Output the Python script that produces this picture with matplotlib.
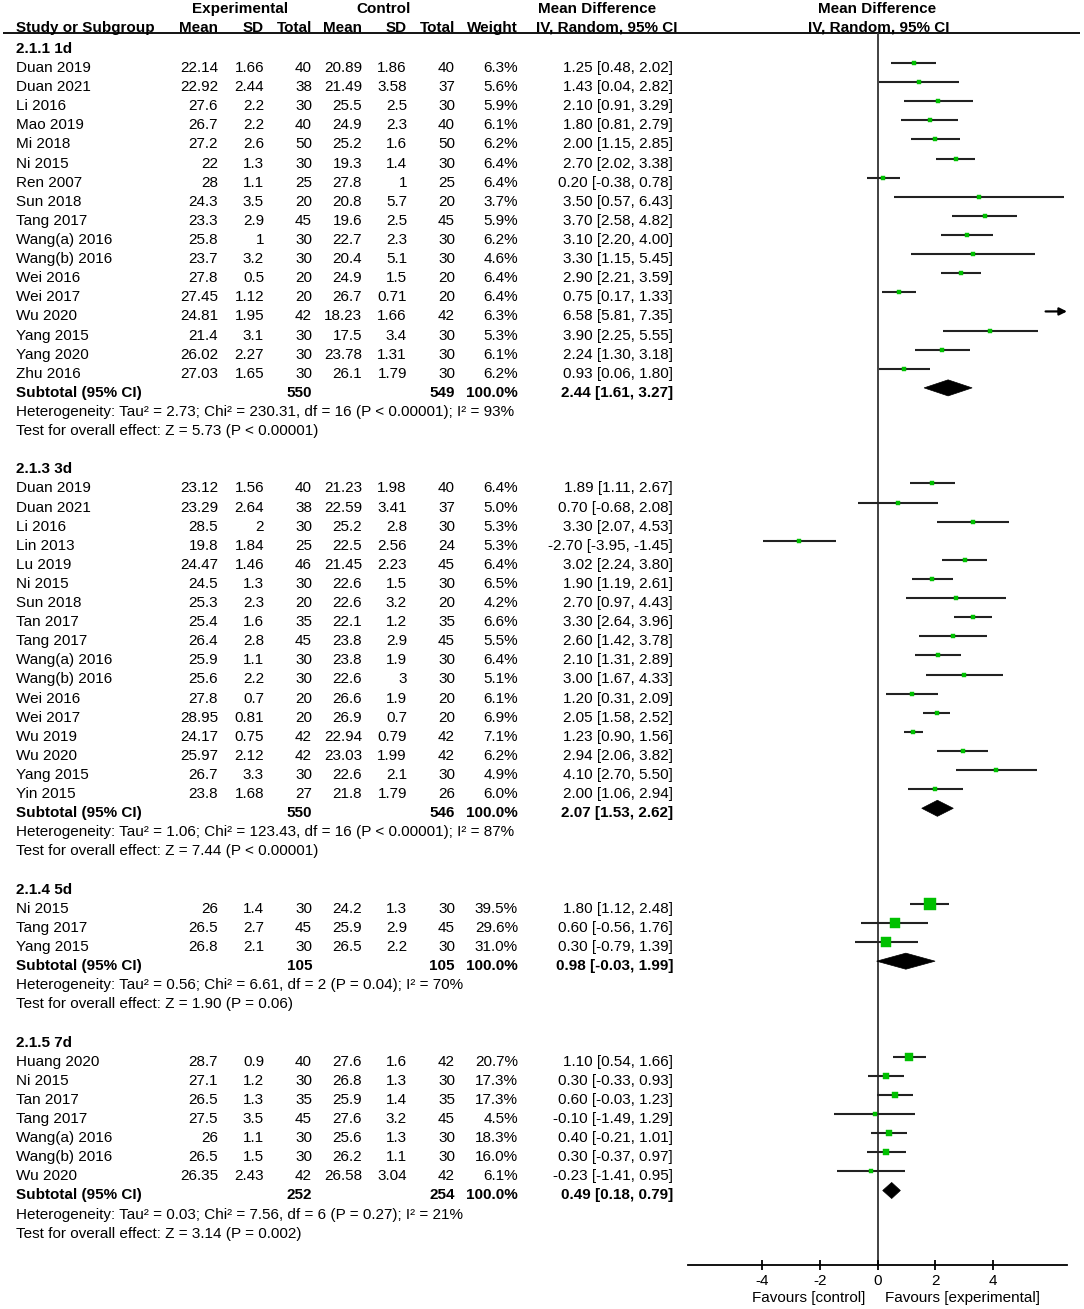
import matplotlib
matplotlib.use("Agg")
import matplotlib.pyplot as plt
from matplotlib.patches import Polygon

plt.rcParams['font.family'] = ['Liberation Sans', 'DejaVu Sans']
plt.rcParams['axes.unicode_minus'] = False

# ---------------- data ----------------
section_labels = ["2.1.1 1d", "2.1.3 3d", "2.1.4 5d", "2.1.5 7d"]
section_sizes = [17, 17, 3, 7]

study = [
    "Duan 2019", "Duan 2021", "Li 2016", "Mao 2019", "Mi 2018", "Ni 2015", "Ren 2007",
    "Sun 2018", "Tang 2017", "Wang(a) 2016", "Wang(b) 2016", "Wei 2016", "Wei 2017",
    "Wu 2020", "Yang 2015", "Yang 2020", "Zhu 2016",
    "Duan 2019", "Duan 2021", "Li 2016", "Lin 2013", "Lu 2019", "Ni 2015", "Sun 2018",
    "Tan 2017", "Tang 2017", "Wang(a) 2016", "Wang(b) 2016", "Wei 2016", "Wei 2017",
    "Wu 2019", "Wu 2020", "Yang 2015", "Yin 2015",
    "Ni 2015", "Tang 2017", "Yang 2015",
    "Huang 2020", "Ni 2015", "Tan 2017", "Tang 2017", "Wang(a) 2016", "Wang(b) 2016", "Wu 2020",
]
exp_mean = [22.14, 22.92, 27.6, 26.7, 27.2, 22, 28, 24.3, 23.3, 25.8, 23.7, 27.8, 27.45, 24.81, 21.4, 26.02, 27.03,
            23.12, 23.29, 28.5, 19.8, 24.47, 24.5, 25.3, 25.4, 26.4, 25.9, 25.6, 27.8, 28.95, 24.17, 25.97, 26.7, 23.8,
            26, 26.5, 26.8,
            28.7, 27.1, 26.5, 27.5, 26, 26.5, 26.35]
exp_sd = [1.66, 2.44, 2.2, 2.2, 2.6, 1.3, 1.1, 3.5, 2.9, 1, 3.2, 0.5, 1.12, 1.95, 3.1, 2.27, 1.65,
          1.56, 2.64, 2, 1.84, 1.46, 1.3, 2.3, 1.6, 2.8, 1.1, 2.2, 0.7, 0.81, 0.75, 2.12, 3.3, 1.68,
          1.4, 2.7, 2.1,
          0.9, 1.2, 1.3, 3.5, 1.1, 1.5, 2.43]
exp_n = [40, 38, 30, 40, 50, 30, 25, 20, 45, 30, 30, 20, 20, 42, 30, 30, 30,
         40, 38, 30, 25, 46, 30, 20, 35, 45, 30, 30, 20, 20, 42, 42, 30, 27,
         30, 45, 30,
         40, 30, 35, 45, 30, 30, 42]
ctl_mean = [20.89, 21.49, 25.5, 24.9, 25.2, 19.3, 27.8, 20.8, 19.6, 22.7, 20.4, 24.9, 26.7, 18.23, 17.5, 23.78, 26.1,
            21.23, 22.59, 25.2, 22.5, 21.45, 22.6, 22.6, 22.1, 23.8, 23.8, 22.6, 26.6, 26.9, 22.94, 23.03, 22.6, 21.8,
            24.2, 25.9, 26.5,
            27.6, 26.8, 25.9, 27.6, 25.6, 26.2, 26.58]
ctl_sd = [1.86, 3.58, 2.5, 2.3, 1.6, 1.4, 1, 5.7, 2.5, 2.3, 5.1, 1.5, 0.71, 1.66, 3.4, 1.31, 1.79,
          1.98, 3.41, 2.8, 2.56, 2.23, 1.5, 3.2, 1.2, 2.9, 1.9, 3, 1.9, 0.7, 0.79, 1.99, 2.1, 1.79,
          1.3, 2.9, 2.2,
          1.6, 1.3, 1.4, 3.2, 1.3, 1.1, 3.04]
ctl_n = [40, 37, 30, 40, 50, 30, 25, 20, 45, 30, 30, 20, 20, 42, 30, 30, 30,
         40, 37, 30, 24, 45, 30, 20, 35, 45, 30, 30, 20, 20, 42, 42, 30, 26,
         30, 45, 30,
         42, 30, 35, 45, 30, 30, 42]
weight = [6.3, 5.6, 5.9, 6.1, 6.2, 6.4, 6.4, 3.7, 5.9, 6.2, 4.6, 6.4, 6.4, 6.3, 5.3, 6.1, 6.2,
          6.4, 5.0, 5.3, 5.3, 6.4, 6.5, 4.2, 6.6, 5.5, 6.4, 5.1, 6.1, 6.9, 7.1, 6.2, 4.9, 6.0,
          39.5, 29.6, 31.0,
          20.7, 17.3, 17.3, 4.5, 18.3, 16.0, 6.1]
md = [1.25, 1.43, 2.10, 1.80, 2.00, 2.70, 0.20, 3.50, 3.70, 3.10, 3.30, 2.90, 0.75, 6.58, 3.90, 2.24, 0.93,
      1.89, 0.70, 3.30, -2.70, 3.02, 1.90, 2.70, 3.30, 2.60, 2.10, 3.00, 1.20, 2.05, 1.23, 2.94, 4.10, 2.00,
      1.80, 0.60, 0.30,
      1.10, 0.30, 0.60, -0.10, 0.40, 0.30, -0.23]
ci_lo = [0.48, 0.04, 0.91, 0.81, 1.15, 2.02, -0.38, 0.57, 2.58, 2.20, 1.15, 2.21, 0.17, 5.81, 2.25, 1.30, 0.06,
         1.11, -0.68, 2.07, -3.95, 2.24, 1.19, 0.97, 2.64, 1.42, 1.31, 1.67, 0.31, 1.58, 0.90, 2.06, 2.70, 1.06,
         1.12, -0.56, -0.79,
         0.54, -0.33, -0.03, -1.49, -0.21, -0.37, -1.41]
ci_hi = [2.02, 2.82, 3.29, 2.79, 2.85, 3.38, 0.78, 6.43, 4.82, 4.00, 5.45, 3.59, 1.33, 7.35, 5.55, 3.18, 1.80,
         2.67, 2.08, 4.53, -1.45, 3.80, 2.61, 4.43, 3.96, 3.78, 2.89, 4.33, 2.09, 2.52, 1.56, 3.82, 5.50, 2.94,
         2.48, 1.76, 1.39,
         1.66, 0.93, 1.23, 1.29, 1.01, 0.97, 0.95]

sub_exp_n = [550, 550, 105, 252]
sub_ctl_n = [549, 546, 105, 254]
sub_weight = [100.0, 100.0, 100.0, 100.0]
sub_md = [2.44, 2.07, 0.98, 0.49]
sub_lo = [1.61, 1.53, -0.03, 0.18]
sub_hi = [3.27, 2.62, 1.99, 0.79]
heterogeneity = [
    "Heterogeneity: Tau² = 2.73; Chi² = 230.31, df = 16 (P < 0.00001); I² = 93%",
    "Heterogeneity: Tau² = 1.06; Chi² = 123.43, df = 16 (P < 0.00001); I² = 87%",
    "Heterogeneity: Tau² = 0.56; Chi² = 6.61, df = 2 (P = 0.04); I² = 70%",
    "Heterogeneity: Tau² = 0.03; Chi² = 7.56, df = 6 (P = 0.27); I² = 21%",
]
overall_effect = [
    "Test for overall effect: Z = 5.73 (P < 0.00001)",
    "Test for overall effect: Z = 7.44 (P < 0.00001)",
    "Test for overall effect: Z = 1.90 (P = 0.06)",
    "Test for overall effect: Z = 3.14 (P = 0.002)",
]
x_ticks = [-4, -2, 0, 2, 4]
x_limits = (-6.55, 6.55)
favours_left = "Favours [control]"
favours_right = "Favours [experimental]"

# ---------------- layout ----------------
W, H = 1084, 1309
Y0, P = 43.9, 19.11          # pixel y of row 0 marker, pitch per row
TOFF = 0.26                   # text sits slightly lower than markers
FS = 11
GREEN = '#00C000'
LINEC = '#222222'

def row_of_px(px):
    return (px - Y0) / P

fig = plt.figure(figsize=(W / 100, H / 100), dpi=100)

tax = fig.add_axes([0, 0, 1, 1])
tax.set_xlim(0, W)
tax.set_ylim(row_of_px(H), row_of_px(0))
tax.axis('off')

ax_l, ax_r, ax_t, ax_b = 688, 1067, 33, 1265
fax = fig.add_axes([ax_l / W, 1 - ax_b / H, (ax_r - ax_l) / W, (ax_b - ax_t) / H])
fax.set_xlim(*x_limits)
fax.set_ylim(row_of_px(ax_b), row_of_px(ax_t))
fax.patch.set_alpha(0)
for s in ('top', 'left', 'right'):
    fax.spines[s].set_visible(False)
fax.spines['bottom'].set_linewidth(1.3)
fax.set_yticks([])
fax.set_xticks(x_ticks)
fax.tick_params(axis='x', direction='inout', length=7, width=1.3, labelsize=FS, pad=3)
fax.axvline(0, color='#333333', lw=1.3, zorder=1)

cols = dict(exp_mean=218, exp_sd=264, exp_n=312, ctl_mean=362, ctl_sd=407,
            ctl_n=455, weight=518, ci=673)
STUDY_X = 16

# headers
h1 = row_of_px(9)
h2 = row_of_px(28)
tax.text(240, h1, "Experimental", ha='center', va='center', fontsize=FS, fontweight='bold')
tax.text(384, h1, "Control", ha='center', va='center', fontsize=FS, fontweight='bold')
tax.text(597, h1, "Mean Difference", ha='center', va='center', fontsize=FS, fontweight='bold')
tax.text(877, h1, "Mean Difference", ha='center', va='center', fontsize=FS, fontweight='bold')
tax.text(STUDY_X, h2, "Study or Subgroup", ha='left', va='center', fontsize=FS, fontweight='bold')
for key, lab in [('exp_mean', 'Mean'), ('exp_sd', 'SD'), ('exp_n', 'Total'), ('ctl_mean', 'Mean'),
                 ('ctl_sd', 'SD'), ('ctl_n', 'Total'), ('weight', 'Weight')]:
    tax.text(cols[key], h2, lab, ha='right', va='center', fontsize=FS, fontweight='bold')
tax.text(607, h2, "IV, Random, 95% CI", ha='center', va='center', fontsize=FS, fontweight='bold')
tax.text(879, h2, "IV, Random, 95% CI", ha='center', va='center', fontsize=FS, fontweight='bold')
tax.hlines(row_of_px(33), 3, 1080, color='black', lw=1.3)

def ci_text(m, lo, hi):
    return f"{m:.2f} [{lo:.2f}, {hi:.2f}]"

row = 0
idx = 0
for s, lab in enumerate(section_labels):
    tax.text(STUDY_X, row + TOFF, lab, ha='left', va='center', fontsize=FS, fontweight='bold')
    row += 1
    for _ in range(section_sizes[s]):
        i = idx
        ty = row + TOFF
        tax.text(STUDY_X, ty, study[i], ha='left', va='center', fontsize=FS)
        tax.text(cols['exp_mean'], ty, f"{exp_mean[i]:g}", ha='right', va='center', fontsize=FS)
        tax.text(cols['exp_sd'], ty, f"{exp_sd[i]:g}", ha='right', va='center', fontsize=FS)
        tax.text(cols['exp_n'], ty, f"{exp_n[i]}", ha='right', va='center', fontsize=FS)
        tax.text(cols['ctl_mean'], ty, f"{ctl_mean[i]:g}", ha='right', va='center', fontsize=FS)
        tax.text(cols['ctl_sd'], ty, f"{ctl_sd[i]:g}", ha='right', va='center', fontsize=FS)
        tax.text(cols['ctl_n'], ty, f"{ctl_n[i]}", ha='right', va='center', fontsize=FS)
        tax.text(cols['weight'], ty, f"{weight[i]:.1f}%", ha='right', va='center', fontsize=FS)
        tax.text(cols['ci'], ty, ci_text(md[i], ci_lo[i], ci_hi[i]), ha='right', va='center', fontsize=FS)

        # forest marks
        xmax = x_limits[1]
        if ci_hi[i] > xmax:
            fax.annotate('', xy=(xmax, row), xytext=(ci_lo[i], row),
                         arrowprops=dict(arrowstyle='-|>', color='black', lw=1.6,
                                         mutation_scale=11, shrinkA=0, shrinkB=0),
                         annotation_clip=False)
        else:
            fax.hlines(row, ci_lo[i], ci_hi[i], color=LINEC, lw=1.5, zorder=2)
        if x_limits[0] <= md[i] <= x_limits[1]:
            side_px = 2.5 + 0.22 * weight[i]
            fax.plot(md[i], row, marker='s', ms=side_px * 0.72, color=GREEN,
                     mec=GREEN, mew=0.3, zorder=3, linestyle='none')
        idx += 1
        row += 1
    # subtotal
    ty = row + TOFF
    tax.text(STUDY_X, ty, "Subtotal (95% CI)", ha='left', va='center', fontsize=FS, fontweight='bold')
    tax.text(cols['exp_n'], ty, f"{sub_exp_n[s]}", ha='right', va='center', fontsize=FS, fontweight='bold')
    tax.text(cols['ctl_n'], ty, f"{sub_ctl_n[s]}", ha='right', va='center', fontsize=FS, fontweight='bold')
    tax.text(cols['weight'], ty, f"{sub_weight[s]:.1f}%", ha='right', va='center', fontsize=FS, fontweight='bold')
    tax.text(cols['ci'], ty, ci_text(sub_md[s], sub_lo[s], sub_hi[s]), ha='right', va='center',
             fontsize=FS, fontweight='bold')
    hh = 0.42
    fax.add_patch(Polygon([(sub_lo[s], row), (sub_md[s], row - hh), (sub_hi[s], row), (sub_md[s], row + hh)],
                          closed=True, facecolor='black', edgecolor='black', lw=0.5, zorder=3))
    row += 1
    tax.text(STUDY_X, row + TOFF, heterogeneity[s], ha='left', va='center', fontsize=FS)
    row += 1
    tax.text(STUDY_X, row + TOFF, overall_effect[s], ha='left', va='center', fontsize=FS)
    row += 2

fy = row_of_px(1298)
tax.text(865, fy, favours_left, ha='right', va='center', fontsize=FS)
tax.text(885, fy, favours_right, ha='left', va='center', fontsize=FS)

fig.savefig("out.png", dpi=100)
